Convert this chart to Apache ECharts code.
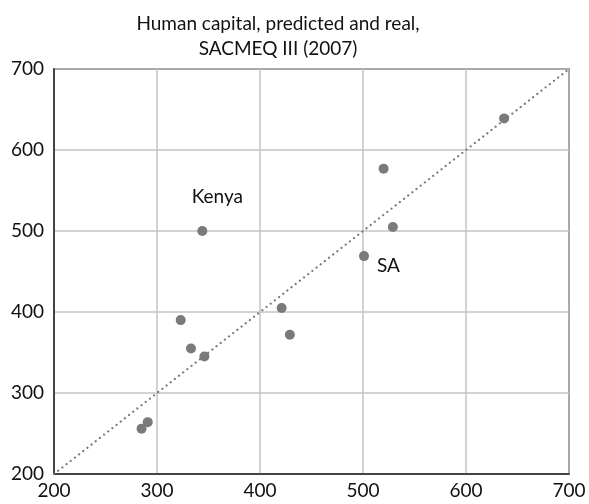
<!DOCTYPE html>
<html>
<head>
<meta charset="utf-8">
<script src="https://cdn.jsdelivr.net/npm/echarts@6/dist/echarts.min.js"></script>
<style>
  html, body { margin: 0; padding: 0; background: #fff; }
  #chart { width: 589px; height: 504px; }
</style>
</head>
<body>
<div id="chart"></div>
<script>
// predicted (x) vs real (y) human capital, SACMEQ III
var predicted = [285, 291, 323, 333, 346, 421, 429, 344, 501, 520, 529, 637];
var real      = [256, 264, 390, 355, 345, 405, 372, 500, 469, 577, 505, 639];
var names     = ['', '', '', '', '', '', '', 'Kenya', 'SA', '', '', ''];
var diagonal  = [[200, 200], [700, 700]];
var ticks     = [200, 300, 400, 500, 600, 700];

var font = 'Lato, "Open Sans", sans-serif';

var points = predicted.map(function (x, i) {
    var item = { value: [x, real[i]], name: names[i] };
    if (names[i] === 'Kenya') {
        item.label = { show: true, position: 'top', offset: [15, -15] };
    } else if (names[i] === 'SA') {
        item.label = { show: true, position: 'right', offset: [3, 10] };
    }
    return item;
});

var chart = echarts.init(document.getElementById('chart'));
chart.setOption({
    animation: false,
    title: {
        text: 'Human capital, predicted and real,\nSACMEQ III (2007)',
        left: 273,
        top: 6,
        textAlign: 'center',
        textStyle: { fontFamily: font, fontSize: 19, fontWeight: 'normal', color: '#111', lineHeight: 25 }
    },
    grid: {
        left: 54, right: 20, top: 69, bottom: 30,
        show: true, borderColor: '#222', borderWidth: 1.5
    },
    xAxis: {
        type: 'value', min: ticks[0], max: ticks[ticks.length - 1], interval: 100,
        axisLine: { show: true, lineStyle: { color: '#222', width: 1.5 } },
        axisTick: { show: false },
        axisLabel: { fontFamily: font, fontSize: 19, color: '#111', margin: 7 },
        splitLine: { lineStyle: { color: '#c4c4c4', width: 1.5 } }
    },
    yAxis: {
        type: 'value', min: ticks[0], max: ticks[ticks.length - 1], interval: 100,
        axisLine: { show: true, lineStyle: { color: '#222', width: 1.5 } },
        axisTick: { show: false },
        axisLabel: { fontFamily: font, fontSize: 19, color: '#111', margin: 10 },
        splitLine: { lineStyle: { color: '#c4c4c4', width: 1.5 } }
    },
    series: [
        {
            type: 'line',
            data: diagonal,
            symbol: 'none',
            silent: true,
            lineStyle: { color: '#7a7a7a', width: 2.2, type: [0.1, 5.2], cap: 'round' }
        },
        {
            type: 'scatter',
            data: points,
            symbolSize: 10,
            itemStyle: { color: '#7a7a7a', opacity: 1 },
            label: {
                show: false,
                formatter: '{b}',
                fontFamily: font, fontSize: 19, color: '#111'
            }
        }
    ]
});
</script>
</body>
</html>
